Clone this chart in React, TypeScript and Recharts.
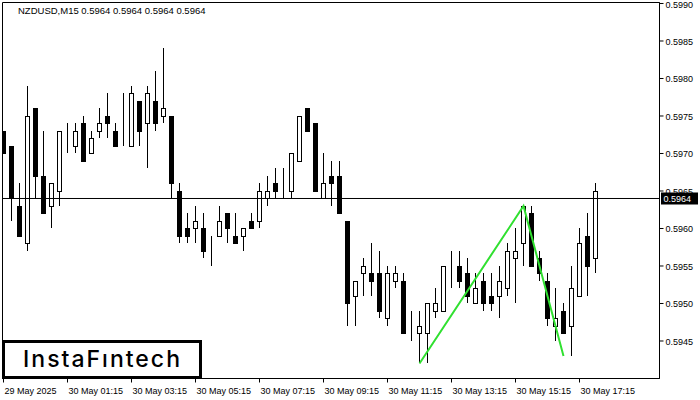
import React from "react";
import {
  ComposedChart,
  Bar,
  Line,
  XAxis,
  YAxis,
  ReferenceLine,
  ReferenceArea,
} from "recharts";

const opens = [
  0.5973, 0.5971, 0.5963, 0.5958, 0.5976, 0.5967, 0.5963, 0.5965, 0.5972, 0.5971,
  0.5974, 0.5970, 0.5973, 0.5975, 0.5973, 0.5972, 0.5971, 0.5977, 0.5974, 0.5977,
  0.5975, 0.5975, 0.5965, 0.5960, 0.5960, 0.5960, 0.5958, 0.5959, 0.5962, 0.5959,
  0.5959, 0.5961, 0.5961, 0.5964, 0.5966, 0.5966, 0.5965, 0.5969, 0.5976, 0.5974,
  0.5964, 0.5967, 0.5967, 0.5961, 0.5951, 0.5954, 0.5954, 0.5954, 0.5948, 0.5953,
  0.5953, 0.5945, 0.5946, 0.5946, 0.5949, 0.5949, 0.5954, 0.5955, 0.5954, 0.5950,
  0.5953, 0.5951, 0.5951, 0.5952, 0.5956, 0.5958, 0.5962, 0.5956, 0.5953, 0.5947,
  0.5949, 0.5947, 0.5951, 0.5959, 0.5956,
];
const highs = [
  0.5973, 0.5971, 0.5966, 0.5979, 0.5976, 0.5973, 0.5966, 0.5973, 0.5974, 0.5974,
  0.5975, 0.5973, 0.5976, 0.5978, 0.5974, 0.5978, 0.5979, 0.5977, 0.5979, 0.5981,
  0.5984, 0.5975, 0.5966, 0.5962, 0.5963, 0.5962, 0.5959, 0.5963, 0.5962, 0.5962,
  0.5960, 0.5962, 0.5966, 0.5967, 0.5968, 0.5968, 0.5970, 0.5975, 0.5976, 0.5974,
  0.5970, 0.5969, 0.5969, 0.5961, 0.5953, 0.5956, 0.5958, 0.5957, 0.5955, 0.5955,
  0.5954, 0.5949, 0.5949, 0.5950, 0.5952, 0.5955, 0.5957, 0.5957, 0.5956, 0.5954,
  0.5954, 0.5954, 0.5955, 0.5958, 0.5960, 0.5963, 0.5963, 0.5957, 0.5954, 0.5952,
  0.5950, 0.5955, 0.5960, 0.5962, 0.5966,
];
const lows = [
  0.5970, 0.5961, 0.5959, 0.5957, 0.5964, 0.5962, 0.5960, 0.5963, 0.5970, 0.5970,
  0.5969, 0.5970, 0.5972, 0.5972, 0.5971, 0.5971, 0.5971, 0.5971, 0.5968, 0.5973,
  0.5974, 0.5964, 0.5958, 0.5958, 0.5958, 0.5956, 0.5955, 0.5959, 0.5958, 0.5958,
  0.5957, 0.5960, 0.5960, 0.5963, 0.5964, 0.5964, 0.5964, 0.5969, 0.5973, 0.5965,
  0.5964, 0.5963, 0.5962, 0.5947, 0.5947, 0.5951, 0.5951, 0.5948, 0.5947, 0.5952,
  0.5946, 0.5945, 0.5942, 0.5942, 0.5948, 0.5949, 0.5952, 0.5952, 0.5950, 0.5950,
  0.5949, 0.5949, 0.5948, 0.5951, 0.5950, 0.5955, 0.5955, 0.5953, 0.5947, 0.5945,
  0.5946, 0.5943, 0.5951, 0.5951, 0.5954,
];
const closes = [
  0.5970, 0.5964, 0.5959, 0.5975, 0.5967, 0.5962, 0.5966, 0.5973, 0.5972, 0.5973,
  0.5969, 0.5972, 0.5974, 0.5974, 0.5971, 0.5972, 0.5978, 0.5973, 0.5978, 0.5974,
  0.5976, 0.5966, 0.5959, 0.5959, 0.5961, 0.5957, 0.5958, 0.5961, 0.5960, 0.5958,
  0.5960, 0.5960, 0.5965, 0.5965, 0.5965, 0.5966, 0.5970, 0.5975, 0.5973, 0.5965,
  0.5966, 0.5966, 0.5962, 0.5950, 0.5953, 0.5955, 0.5953, 0.5949, 0.5954, 0.5954,
  0.5946, 0.5945, 0.5947, 0.5950, 0.5950, 0.5955, 0.5954, 0.5953, 0.5951, 0.5952,
  0.5950, 0.5950, 0.5953, 0.5957, 0.5957, 0.5963, 0.5955, 0.5954, 0.5948, 0.5948,
  0.5946, 0.5952, 0.5958, 0.5955, 0.5965,
];

const xTickIdx = [0, 8, 16, 24, 32, 40, 48, 56, 64, 72];
const xTickLabels = [
  "29 May 2025",
  "30 May 01:15",
  "30 May 03:15",
  "30 May 05:15",
  "30 May 07:15",
  "30 May 09:15",
  "30 May 11:15",
  "30 May 13:15",
  "30 May 15:15",
  "30 May 17:15",
];
const yTicks = [0.5945, 0.595, 0.5955, 0.596, 0.5965, 0.597, 0.5975, 0.598, 0.5985, 0.599];
const patternIdx = [52, 65, 70];
const patternVals = [0.5942, 0.5963, 0.5943];
const lastPrice = 0.5964;
const title = "NZDUSD,M15  0.5964 0.5964 0.5964 0.5964";
const logoText = "InstaFıntech";

const data = opens.map((o, i) => {
  const pi = patternIdx.indexOf(i);
  return {
    k: i,
    o,
    h: highs[i],
    l: lows[i],
    c: closes[i],
    range: [lows[i], highs[i]],
    pat: pi >= 0 ? patternVals[pi] : null,
  };
});

const FONT = "'Liberation Sans', Arial, sans-serif";

const Candle = (props: any) => {
  const { x, y, width, height, payload } = props;
  if (x == null || y == null || !payload) return null;
  const { o, h, l, c } = payload;
  const yTop = Math.min(y, y + height);
  const hh = Math.abs(height);
  const py = (p: number) => (h === l ? yTop : yTop + ((h - p) / (h - l)) * hh);
  const cx = Math.floor(x + width / 2);
  const top = Math.round(py(Math.max(o, c)));
  const bot = Math.round(py(Math.min(o, c)));
  const yh = Math.round(py(h));
  const yl = Math.round(py(l));
  const bear = c < o;
  return (
    <g>
      <line x1={cx + 0.5} x2={cx + 0.5} y1={yh} y2={yl} stroke="#000" strokeWidth={1} />
      <rect
        x={cx - 1.5}
        y={top + 0.5}
        width={4}
        height={Math.max(0, bot - top)}
        fill={bear ? "#000" : "#fff"}
        stroke="#000"
        strokeWidth={1}
        shapeRendering="crispEdges"
      />
    </g>
  );
};

const XTick = (props: any) => {
  const { x, y, payload } = props;
  const idx = xTickIdx.indexOf(payload.value);
  return (
    <text x={x + 1} y={y + 9} fontSize={9} fontFamily={FONT} fill="#000" textAnchor="start">
      {idx >= 0 ? xTickLabels[idx] : ""}
    </text>
  );
};

const YTick = (props: any) => {
  const { x, y, payload } = props;
  return (
    <text x={x} y={y + 4} fontSize={9} fontFamily={FONT} fill="#000" textAnchor="start">
      {Number(payload.value).toFixed(4)}
    </text>
  );
};

const PriceLabel = (props: any) => {
  const vb = props.viewBox || {};
  const rx = vb.x + vb.width + 1.5;
  const ry = vb.y;
  return (
    <g>
      <rect x={rx} y={ry - 6} width={37} height={12} fill="#000" />
      <text x={rx + 2.5} y={ry + 3.5} fontSize={9} fontFamily={FONT} fill="#fff">
        {lastPrice.toFixed(4)}
      </text>
    </g>
  );
};

export default function App() {
  return (
    <div style={{ position: "absolute", left: 0, top: 0, width: 700, height: 400, background: "#fff" }}>
      <ComposedChart
        width={700}
        height={400}
        data={data}
        margin={{ top: 2.5, left: 2.5, right: 0, bottom: 0 }}
      >
        <XAxis
          dataKey="k"
          type="number"
          domain={[-0.125, 82]}
          allowDataOverflow
          ticks={xTickIdx}
          height={21.5}
          tickSize={4}
          tickLine={{ stroke: "#000" }}
          axisLine={{ stroke: "#000" }}
          tick={<XTick />}
          interval={0}
        />
        <YAxis
          orientation="right"
          type="number"
          domain={[0.594, 0.5990133]}
          allowDataOverflow
          ticks={yTicks}
          width={40.5}
          tickSize={4}
          tickMargin={2}
          tickLine={{ stroke: "#000" }}
          axisLine={{ stroke: "#000" }}
          tick={<YTick />}
          interval={0}
        />
        <ReferenceArea
          x1={-0.125}
          x2={82}
          y1={0.594}
          y2={0.5990133}
          fill="none"
          fillOpacity={0}
          stroke="#000"
          strokeWidth={1}
          ifOverflow="visible"
        />
        <ReferenceLine
          y={lastPrice}
          stroke="#000"
          strokeWidth={1}
          ifOverflow="visible"
          label={<PriceLabel />}
        />
        <Bar dataKey="range" barSize={7} shape={<Candle />} isAnimationActive={false} />
        <Line
          dataKey="pat"
          connectNulls
          dot={false}
          activeDot={false}
          stroke="#30e030"
          strokeWidth={2}
          isAnimationActive={false}
        />
      </ComposedChart>
      <svg
        width={700}
        height={400}
        style={{ position: "absolute", left: 0, top: 0, pointerEvents: "none" }}
      >
        <text x={18} y={14} fontSize={9.5} fontFamily={FONT} fill="#000">
          {title}
        </text>
        <rect x={3.5} y={341.5} width={197} height={36} fill="#fff" stroke="#000" strokeWidth={3} />
        <text
          x={23}
          y={367}
          fontSize={23}
          fontWeight={500}
          fontFamily="Inter, 'Open Sans', sans-serif"
          fill="#000"
          textLength={157}
          lengthAdjust="spacing"
        >
          {logoText}
        </text>
      </svg>
    </div>
  );
}
